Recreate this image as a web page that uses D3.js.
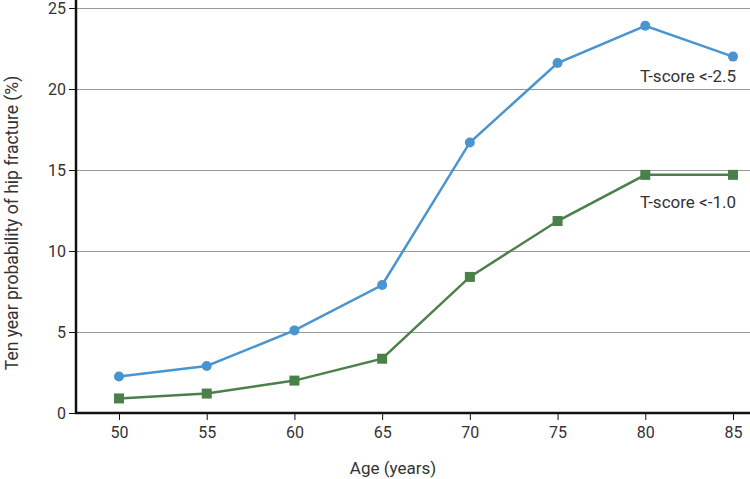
<!DOCTYPE html>
<html>
<head>
<meta charset="utf-8">
<script src="https://cdn.jsdelivr.net/npm/d3@7"></script>
<style>
  body { margin: 0; background: #fff; }
  svg text { font-family: "Roboto", sans-serif; fill: #333; }
  .grid line { stroke: #999; stroke-width: 1; }
  .axis path, .axis line { stroke: #111; }
</style>
</head>
<body>
<div id="chart"></div>
<script>
// Data
var ages = [50, 55, 60, 65, 70, 75, 80, 85];
var tscore25 = [2.25, 2.9, 5.1, 7.9, 16.7, 21.6, 23.9, 22.0];
var tscore10 = [0.9, 1.2, 2.0, 3.35, 8.4, 11.85, 14.7, 14.7];
var yTicks = [0, 5, 10, 15, 20, 25];

var width = 750, height = 479;

var svg = d3.select("#chart")
    .append("svg")
    .attr("width", width)
    .attr("height", height);

var x = d3.scaleLinear().domain([50, 85]).range([119, 733]);
var y = d3.scaleLinear().domain([0, 25]).range([413, 8]);

// Horizontal gridlines
svg.append("g")
    .attr("class", "grid")
    .selectAll("line")
    .data(yTicks.filter(function (d) { return d > 0; }))
    .enter()
    .append("line")
    .attr("x1", 77)
    .attr("x2", width)
    .attr("y1", function (d) { return y(d) + 0.5; })
    .attr("y2", function (d) { return y(d) + 0.5; });

// Y axis
var yAxis = svg.append("g")
    .attr("class", "axis")
    .attr("transform", "translate(76,0)")
    .call(d3.axisLeft(y).tickValues(yTicks).tickSize(7).tickSizeOuter(0));
yAxis.select(".domain").attr("stroke-width", 2.5).attr("d", "M0," + (y(0) + 1) + "V0");
yAxis.selectAll("text").style("font-size", "16px").attr("x", -10);

// X axis
var xAxis = svg.append("g")
    .attr("class", "axis")
    .attr("transform", "translate(0," + y(0) + ")")
    .call(d3.axisBottom(x).tickValues(ages).tickSize(7).tickSizeOuter(0));
xAxis.select(".domain").attr("stroke-width", 2.5).attr("d", "M75,0H" + width);
xAxis.selectAll("text").style("font-size", "16px").attr("y", 14);

// Axis titles
svg.append("text")
    .attr("x", 393)
    .attr("y", 474)
    .attr("text-anchor", "middle")
    .style("font-size", "17px")
    .text("Age (years)");

svg.append("text")
    .attr("transform", "translate(18,223) rotate(-90)")
    .attr("text-anchor", "middle")
    .style("font-size", "17.5px")
    .text("Ten year probability of hip fracture (%)");

// Lines
var line = d3.line()
    .x(function (d, i) { return x(ages[i]); })
    .y(function (d) { return y(d); });

svg.append("path")
    .datum(tscore10)
    .attr("fill", "none")
    .attr("stroke", "#4b804a")
    .attr("stroke-width", 2.5)
    .attr("d", line);

svg.append("path")
    .datum(tscore25)
    .attr("fill", "none")
    .attr("stroke", "#4a94d0")
    .attr("stroke-width", 2.5)
    .attr("d", line);

// Markers
svg.selectAll(".sq")
    .data(tscore10)
    .enter()
    .append("rect")
    .attr("x", function (d, i) { return x(ages[i]) - 5; })
    .attr("y", function (d) { return y(d) - 5; })
    .attr("width", 10)
    .attr("height", 10)
    .attr("fill", "#4b804a");

svg.selectAll(".dot")
    .data(tscore25)
    .enter()
    .append("circle")
    .attr("cx", function (d, i) { return x(ages[i]); })
    .attr("cy", function (d) { return y(d); })
    .attr("r", 5)
    .attr("fill", "#4a94d0");

// Series labels
svg.append("text")
    .attr("x", 736)
    .attr("y", 82)
    .attr("text-anchor", "end")
    .style("font-size", "17px")
    .text("T-score <-2.5");

svg.append("text")
    .attr("x", 736)
    .attr("y", 208)
    .attr("text-anchor", "end")
    .style("font-size", "17px")
    .text("T-score <-1.0");
</script>
</body>
</html>
